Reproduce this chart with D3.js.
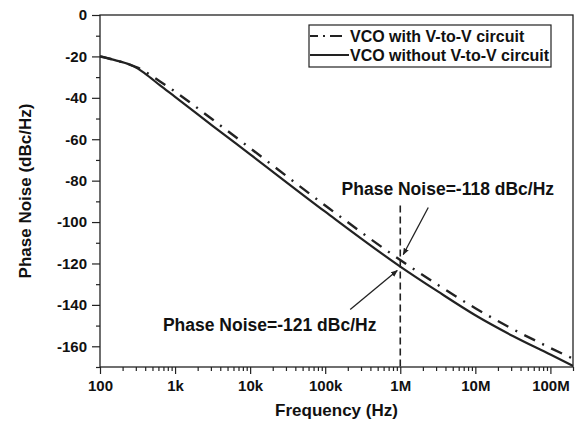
<!DOCTYPE html>
<html>
<head>
<meta charset="utf-8">
<style>
  body { margin: 0; background: white; font-family: "Liberation Sans", Arial, Helvetica, sans-serif; }
  svg { display: block; }
</style>
<script src="https://cdn.jsdelivr.net/npm/d3@7"></script>
</head>
<body>
<svg id="main"></svg>
<script>
// frequency points (Hz)
const freqs = [100, 158, 251, 316, 398, 631, 1e3, 3162, 1e4, 1e5, 1e6, 3.16e6, 1e7, 3.16e7, 1e8, 2e8];
// VCO with V-to-V circuit (dash-dot)
const withVtoV = [-20, -21.8, -24, -25.4, -27.4, -32.1, -37, -50.5, -64.3, -92, -118.3, -130.3, -141.6, -151.7, -160.8, -166];
// VCO without V-to-V circuit (solid)
const withoutVtoV = [-20, -21.8, -24, -25.8, -28.3, -34, -39.5, -53.5, -67.3, -95, -121.5, -133.5, -145, -155, -164, -169.5];

const xTicks = [100, 1e3, 1e4, 1e5, 1e6, 1e7, 1e8];
const xTickLabels = ["100", "1k", "10k", "100k", "1M", "10M", "100M"];
const yTicks = [0, -20, -40, -60, -80, -100, -120, -140, -160];
const legendLabels = ["VCO with V-to-V circuit", "VCO without V-to-V circuit"];

const markerFreq = 1e6;
// annotations: [tail freq, tail dB, tip freq, tip dB]
const arrows = [
  [10 ** 6.373, -93.0, 10 ** 6.04, -115.7],
  [10 ** 5.333, -142.2, 10 ** 5.96, -123.4]
];
const notes = [
  { text: "Phase Noise=-118 dBc/Hz", f: 10 ** 5.218, v: -87.0 },
  { text: "Phase Noise=-121 dBc/Hz", f: 10 ** 2.838, v: -152.7 }
];

const width = 576, height = 424;
const margin = { top: 15, right: 3, bottom: 57, left: 100 };
const ink = "#222";

const svg = d3.select("#main").attr("width", width).attr("height", height);

const x = d3.scaleLog().domain([100, 2e8]).range([margin.left, width - margin.right]);
const y = d3.scaleLinear().domain([-170, 0]).range([height - margin.bottom, margin.top]);

svg.append("defs").append("clipPath").attr("id", "clip")
  .append("rect")
  .attr("x", margin.left).attr("y", margin.top)
  .attr("width", x.range()[1] - margin.left)
  .attr("height", y.range()[0] - margin.top);

svg.append("defs").append("marker")
  .attr("id", "arrow")
  .attr("viewBox", "0 0 10 10")
  .attr("refX", 9).attr("refY", 5)
  .attr("markerWidth", 7).attr("markerHeight", 7)
  .attr("markerUnits", "userSpaceOnUse")
  .attr("orient", "auto")
  .append("path").attr("d", "M0,1L10,5L0,9Z").attr("fill", ink);

// x axis (major + minor ticks)
const minorX = [];
for (let e = 2; e <= 8; e++) for (let m = 2; m <= 9; m++) { const v = m * 10 ** e; if (v <= 2e8) minorX.push(v); }
const xAxis = svg.append("g").attr("transform", `translate(0,${y(-170)})`);
xAxis.call(d3.axisBottom(x).tickValues(xTicks).tickFormat((d, i) => xTickLabels[i]).tickSize(7).tickPadding(6));
xAxis.append("g").call(d3.axisBottom(x).tickValues(minorX).tickFormat("").tickSize(4));

// y axis
const minorY = d3.range(-170, 0, 10).filter(v => v % 20 !== 0);
const yAxis = svg.append("g").attr("transform", `translate(${margin.left},0)`);
yAxis.call(d3.axisLeft(y).tickValues(yTicks).tickFormat(d => String(d)).tickSize(8).tickPadding(5));
yAxis.append("g").call(d3.axisLeft(y).tickValues(minorY).tickFormat("").tickSize(4));

svg.selectAll(".domain").remove();
svg.selectAll(".tick line").attr("stroke", ink).attr("stroke-width", 1.2);
svg.selectAll(".tick text")
  .attr("font-family", "Liberation Sans, Arial, sans-serif")
  .attr("font-size", 15).attr("font-weight", "bold").attr("fill", "#111");

// frame
svg.append("rect")
  .attr("x", margin.left).attr("y", margin.top)
  .attr("width", x.range()[1] - margin.left)
  .attr("height", y.range()[0] - margin.top)
  .attr("fill", "none").attr("stroke", ink).attr("stroke-width", 1.3);

// curves
const line = d3.line().x(d => x(d[0])).y(d => y(d[1])).curve(d3.curveMonotoneX);
const plot = svg.append("g").attr("clip-path", "url(#clip)");
plot.append("path")
  .attr("d", line(freqs.map((f, i) => [f, withoutVtoV[i]])))
  .attr("fill", "none").attr("stroke", ink).attr("stroke-width", 2.2);
plot.append("path")
  .attr("d", line(freqs.map((f, i) => [f, withVtoV[i]])))
  .attr("fill", "none").attr("stroke", ink).attr("stroke-width", 2.4)
  .attr("stroke-dasharray", "12,8,2,8");

// vertical marker at 1 MHz
svg.append("line")
  .attr("x1", x(markerFreq)).attr("x2", x(markerFreq))
  .attr("y1", y(-92)).attr("y2", y(-170))
  .attr("stroke", ink).attr("stroke-width", 1.6)
  .attr("stroke-dasharray", "7,4");

// arrows
svg.selectAll(".arrow").data(arrows).join("line")
  .attr("class", "arrow")
  .attr("x1", d => x(d[0])).attr("y1", d => y(d[1]))
  .attr("x2", d => x(d[2])).attr("y2", d => y(d[3]))
  .attr("stroke", ink).attr("stroke-width", 1.3)
  .attr("marker-end", "url(#arrow)");

// annotation text
svg.selectAll(".note").data(notes).join("text")
  .attr("class", "note")
  .attr("x", d => x(d.f)).attr("y", d => y(d.v))
  .attr("font-size", 17.5).attr("font-weight", "bold").attr("fill", "#111")
  .text(d => d.text);

// legend
const lg = svg.append("g").attr("transform", "translate(309,25)");
lg.append("rect").attr("width", 242).attr("height", 42)
  .attr("fill", "white").attr("stroke", ink).attr("stroke-width", 1.2);
const rows = lg.selectAll(".row").data(legendLabels).join("g")
  .attr("class", "row")
  .attr("transform", (d, i) => `translate(0,${11 + i * 19})`);
rows.append("line").attr("x1", 1).attr("x2", 40)
  .attr("stroke", ink).attr("stroke-width", 2.2)
  .attr("stroke-dasharray", (d, i) => i === 0 ? "8,5,2,5,12" : null);
rows.append("text").attr("x", 41).attr("y", 5.5)
  .attr("font-size", 16).attr("font-weight", "bold").attr("fill", "#111")
  .text(d => d);

// axis titles
svg.append("text")
  .attr("x", (x.range()[0] + x.range()[1]) / 2).attr("y", 416)
  .attr("text-anchor", "middle")
  .attr("font-size", 17).attr("font-weight", "bold").attr("fill", "#111")
  .text("Frequency (Hz)");
svg.append("text")
  .attr("transform", `translate(31,${(y.range()[0] + y.range()[1]) / 2}) rotate(-90)`)
  .attr("text-anchor", "middle")
  .attr("font-size", 17).attr("font-weight", "bold").attr("fill", "#111")
  .text("Phase Noise (dBc/Hz)");
</script>
</body>
</html>
